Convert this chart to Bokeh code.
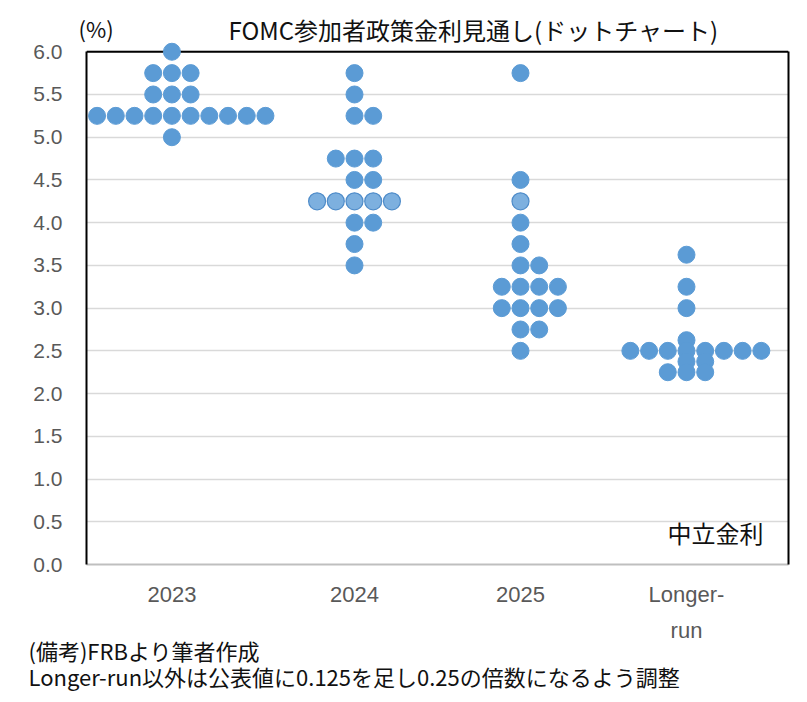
from bokeh.plotting import figure
from bokeh.models import (Range1d, FixedTicker, LinearAxis, Label, Span, Title,
                          ColumnDataSource, NumeralTickFormatter)
from bokeh.embed import file_html
from bokeh.resources import INLINE

# ---------------- data ----------------
categories = ["2023", "2024", "2025", "Longer-run"]
tick_labels = ["2023", "2024", "2025", "Longer-\nrun"]
cat_pos = [0.9, 2.0, 3.0, 4.0]

rates_2023 = [6.0, 5.75, 5.5, 5.25, 5.0]
counts_2023 = [1, 3, 3, 10, 1]

rates_2024 = [5.75, 5.5, 5.25, 4.75, 4.5, 4.25, 4.0, 3.75, 3.5]
counts_2024 = [1, 1, 2, 3, 2, 5, 2, 1, 1]

rates_2025 = [5.75, 4.5, 4.25, 4.0, 3.75, 3.5, 3.25, 3.0, 2.75, 2.5]
counts_2025 = [1, 1, 1, 1, 1, 2, 4, 4, 2, 1]

rates_lr = [3.625, 3.25, 3.0, 2.625, 2.5, 2.375, 2.25]
counts_lr = [1, 1, 1, 1, 8, 2, 3]

# rows drawn in the lighter shade (per category)
light_rates = {"2024": [4.25], "2025": [4.25]}

y_ticks = [0.0, 0.5, 1.0, 1.5, 2.0, 2.5, 3.0, 3.5, 4.0, 4.5, 5.0, 5.5, 6.0]
y_max = 6.0

title_text = "FOMC参加者政策金利見通し(ドットチャート)"
unit_text = "(%)"
neutral_text = "中立金利"
note1 = "(備考)FRBより筆者作成"
note2 = "Longer-run以外は公表値に0.125を足し0.25の倍数になるよう調整"

# ---------------- build dots ----------------
series = {
    "2023": (rates_2023, counts_2023),
    "2024": (rates_2024, counts_2024),
    "2025": (rates_2025, counts_2025),
    "Longer-run": (rates_lr, counts_lr),
}
step = 0.1127  # horizontal dot spacing (data units)

xs, ys, xs_l, ys_l = [], [], [], []
for cat, cx in zip(categories, cat_pos):
    rates, counts = series[cat]
    for r, n in zip(rates, counts):
        for k in range(n):
            # 0, +1, -1, +2, -2, ...
            off = (k + 1) // 2 if k % 2 == 1 else -(k // 2)
            if r in light_rates.get(cat, []):
                xs_l.append(cx + off * step)
                ys_l.append(r)
            else:
                xs.append(cx + off * step)
                ys.append(r)

src = ColumnDataSource(dict(x=xs, y=ys))
src_l = ColumnDataSource(dict(x=xs_l, y=ys_l))

jp = "Noto Sans CJK JP"

# ---------------- figure ----------------
p = figure(width=807, height=702,
           x_range=Range1d(0.3855, 4.6145), y_range=Range1d(0, 6.12),
           min_border_left=86, min_border_right=19,
           min_border_top=41, min_border_bottom=132,
           toolbar_location=None, output_backend="svg")
p.outline_line_color = None
p.background_fill_color = "white"
p.border_fill_color = "white"

# title row (above panel): main title nearest, "(%)" on the same line
t_main = Title(text=title_text, align="left", offset=142, standoff=-10,
               text_font=jp, text_font_size="24px",
               text_font_style="normal", text_color="#111111")
p.add_layout(t_main, "above")
t_unit = Title(text=unit_text, align="left", offset=-8, standoff=-59,
               text_font=jp, text_font_size="22px",
               text_font_style="normal", text_color="#111111")
p.add_layout(t_unit, "above")

# y axis
p.yaxis.ticker = FixedTicker(ticks=y_ticks)
p.yaxis.formatter = NumeralTickFormatter(format="0.0")
p.yaxis.bounds = (0, y_max)
p.yaxis.axis_line_color = "black"
p.yaxis.axis_line_width = 2
p.yaxis.major_tick_line_color = None
p.yaxis.minor_tick_line_color = None
p.yaxis.major_label_text_font = "Liberation Sans"
p.yaxis.major_label_text_font_size = "21px"
p.yaxis.major_label_text_color = "#595959"
p.yaxis.major_label_standoff = 18

# x axis
p.xaxis.ticker = FixedTicker(ticks=cat_pos)
p.xaxis.major_label_overrides = {c: t for c, t in zip(cat_pos, tick_labels)}
p.xaxis.axis_line_color = "#BFBFBF"
p.xaxis.axis_line_width = 2
p.xaxis.major_tick_line_color = None
p.xaxis.minor_tick_line_color = None
p.xaxis.major_label_text_font = "Liberation Sans"
p.xaxis.major_label_text_font_size = "22px"
p.xaxis.major_label_text_color = "#595959"
p.xaxis.major_label_standoff = 11
p.xaxis.major_label_text_line_height = 1.46

# right border
right_ax = LinearAxis(ticker=FixedTicker(ticks=[]), bounds=(0, y_max),
                      axis_line_color="black", axis_line_width=2,
                      major_tick_line_color=None, minor_tick_line_color=None)
p.add_layout(right_ax, "right")

# grid
p.xgrid.grid_line_color = None
p.ygrid.ticker = FixedTicker(ticks=y_ticks)
p.ygrid.grid_line_color = "#D9D9D9"
p.ygrid.grid_line_width = 1.5

# top border
p.add_layout(Span(location=y_max, dimension="width", line_color="black",
                  line_width=2, level="underlay"))

# dots
p.scatter("x", "y", source=src, size=17, fill_color="#5B9BD5",
          line_color="#5B9BD5", line_width=1)
p.scatter("x", "y", source=src_l, size=17, fill_color="#7DB0DF",
          line_color="#4F8CC9", line_width=1.2)

# notes (below panel)
p.add_layout(Title(text=note1, align="left", offset=-58, standoff=-38,
                   text_font=jp, text_font_size="22px",
                   text_font_style="normal", text_color="#111111"), "below")
p.add_layout(Title(text=note2, align="left", offset=-58, standoff=22,
                   text_font=jp, text_font_size="22px",
                   text_font_style="normal", text_color="#111111"), "below")

# in-frame label (screen units relative to the frame's lower-left corner)
p.add_layout(Label(x=629, y=32, x_units="screen", y_units="screen",
                   text=neutral_text, text_align="center",
                   text_baseline="middle", text_font=jp,
                   text_font_size="24px", text_color="#111111"))

open("out.html", "w").write(file_html(p, INLINE))
